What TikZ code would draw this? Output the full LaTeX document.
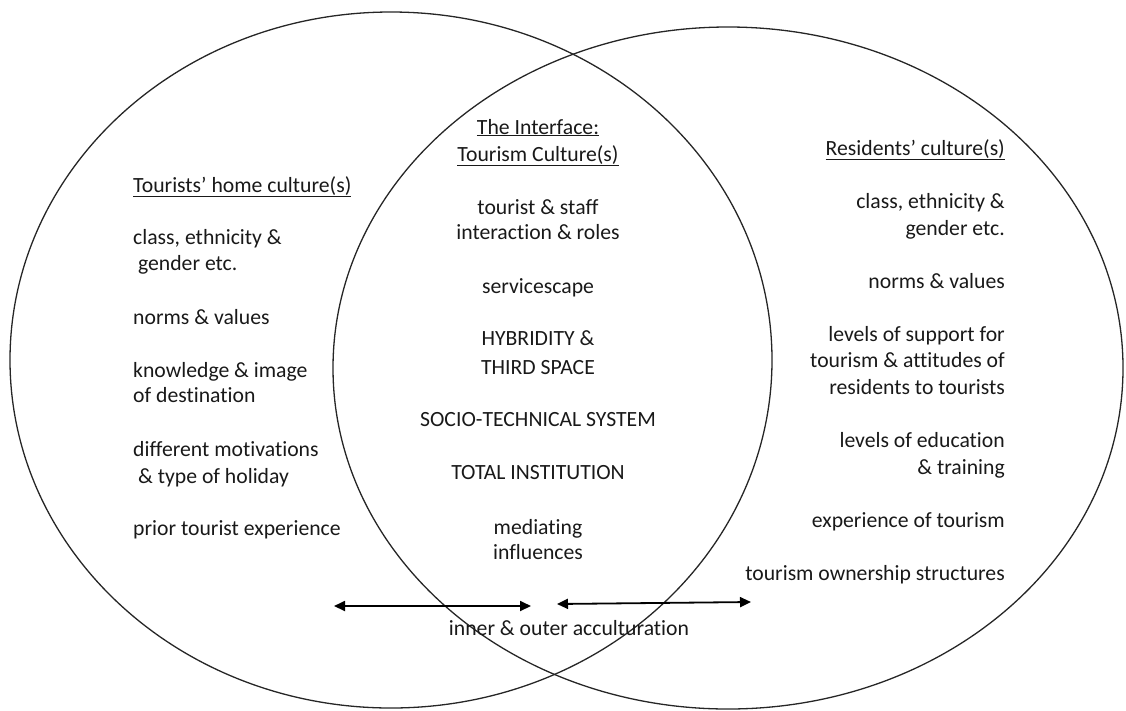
\documentclass[tikz,border=0pt]{standalone}
\usepackage{fontspec}
\setmainfont{Carlito}[Ligatures={NoCommon}]
\usetikzlibrary{arrows.meta}
\begin{document}
\begin{tikzpicture}[x=1pt,y=1pt,
  ring/.style={draw=black!85, line width=1.3pt},
  txt/.style={font=\fontsize{21.7}{26.5}\selectfont, inner sep=0pt, text=black!90},
  lft/.style={txt, anchor=base west},
  mid/.style={txt, anchor=base},
  rgt/.style={txt, anchor=base east},
  twoway/.style={line width=1.8pt, {Triangle[length=11pt,width=10pt]}-{Triangle[length=11pt,width=10pt]}}]
\useasboundingbox (0,0) rectangle (1126,-710);

% the two overlapping cultures
\draw[ring] (391,-360) ellipse [x radius=381, y radius=348];
\draw[ring] (728,-368) ellipse [x radius=395, y radius=341];

% tourists' side
\node[lft] (t0) at (133,-192) {\underline{Tourists’ home culture(s)}};
\node[lft] (t1) at (133,-244) {class, ethnicity \&};
\node[lft] (t2) at (133,-270) {\ gender etc.};
\node[lft] (t3) at (133,-324) {norms \& values};
\node[lft] (t4) at (133,-377) {knowledge \& image};
\node[lft] (t5) at (133,-402) {of destination};
\node[lft] (t6) at (133,-456) {different motivations};
\node[lft] (t7) at (133,-483) {\ \& type of holiday};
\node[lft] (t8) at (133,-535) {prior tourist experience};

% the interface
\node[mid] (m0) at (538,-134) {\underline{The Interface:}};
\node[mid] (m1) at (538,-161) {\underline{Tourism Culture(s)}};
\node[mid] (m2) at (538,-214) {tourist \& staff};
\node[mid] (m3) at (538,-239) {interaction \& roles};
\node[mid] (m4) at (538,-293) {servicescape};
\node[mid] (m5) at (538,-345) {HYBRIDITY \&};
\node[mid] (m6) at (538,-374) {THIRD SPACE};
\node[mid] (m7) at (538,-426) {SOCIO-TECHNICAL SYSTEM};
\node[mid] (m8) at (538,-479) {TOTAL INSTITUTION};
\node[mid] (m9) at (538,-534) {mediating};
\node[mid] (m10) at (538,-559) {influences};

% residents' side
\node[rgt] (r0) at (1005,-155) {\underline{Residents’ culture(s)}};
\node[rgt] (r1) at (1005,-208) {class, ethnicity \&};
\node[rgt] (r2) at (1005,-235) {gender etc.};
\node[rgt] (r3) at (1005,-288) {norms \& values};
\node[rgt] (r4) at (1005,-341) {levels of support for};
\node[rgt] (r5) at (1005,-367) {tourism \& attitudes of};
\node[rgt] (r6) at (1005,-394) {residents to tourists};
\node[rgt] (r7) at (1005,-447) {levels of education};
\node[rgt] (r8) at (1005,-474) {\& training};
\node[rgt] (r9) at (1005,-527) {experience of tourism};
\node[rgt] (r10) at (1005,-580) {tourism ownership structures};

% acculturation arrows
\coordinate (a1) at (334,-606);
\coordinate (a2) at (531,-606);
\coordinate (b1) at (557,-604);
\coordinate (b2) at (751,-602);
\draw[twoway] (a1) -- (a2);
\draw[twoway] (b1) -- (b2);
\node[mid] (acc) at (569,-635) {inner \& outer acculturation};
\end{tikzpicture}
\end{document}
